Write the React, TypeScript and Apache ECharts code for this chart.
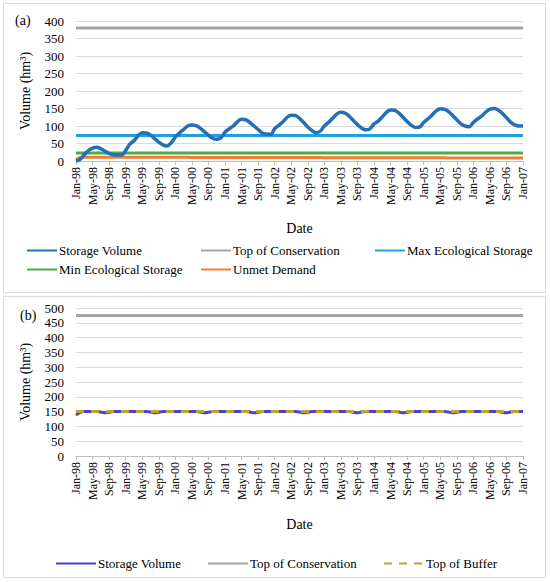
import React, { useEffect, useRef } from "react";
import * as echarts from "echarts";

const MONTHS = ["Jan", "Feb", "Mar", "Apr", "May", "Jun", "Jul", "Aug", "Sep", "Oct", "Nov", "Dec"];
const YEARS = ["98", "99", "00", "01", "02", "03", "04", "05", "06"];
const categories: string[] = [];
YEARS.forEach((y) => MONTHS.forEach((m) => categories.push(`${m}-${y}`)));
categories.push("Jan-07");

// Panel (a)
const storageA = [
  0, 5, 18, 30, 37, 39, 35, 28, 22, 18, 17, 17,
  30, 48, 58, 72, 81, 80, 74, 64, 54, 46, 43, 52,
  68, 80, 90, 100, 103, 101, 94, 84, 74, 65, 62, 66,
  82, 92, 100, 112, 119, 118, 110, 100, 90, 80, 77, 76,
  92, 102, 112, 125, 131, 130, 122, 110, 97, 87, 81, 85,
  100, 110, 122, 134, 139, 137, 128, 116, 104, 94, 89, 92,
  106, 114, 126, 139, 146, 145, 137, 125, 113, 102, 96, 97,
  110, 120, 131, 143, 149, 148, 141, 130, 118, 106, 100, 98,
  110, 120, 128, 140, 148, 150, 146, 136, 124, 111, 103, 100,
  101,
];
const unmetDemandA = [
  5, 10, 11, 11, 11, 11, 11, 11, 11, 11, 11, 11,
  11, 11, 11, 11, 11, 11, 11, 11, 11, 11, 11, 11,
  11, 11, 11, 11, 10, 10, 10, 10, 10, 10, 10, 10,
  10, 10, 10, 10, 10, 10, 10, 10, 10, 10, 10, 10,
  10, 10, 10, 10, 10, 10, 10, 10, 10, 10, 10, 10,
  9.5, 9.5, 9.5, 9.5, 9.5, 9.5, 9.5, 9.5, 9.5, 9.5, 9.5, 9.5,
  9, 9, 9, 9, 9, 9, 9, 9, 9, 9, 9, 9,
  9, 9, 9, 9, 9, 9, 8.5, 8.5, 8.5, 8.5, 8.5, 8.5,
  8.5, 8.5, 8.5, 8.5, 8.5, 8.5, 8.5, 8.5, 8.5, 8.5, 8.5, 8.5,
  8.5,
];
const TOP_CONSERVATION_A = 380;
const MAX_ECO_A = 73;
const MIN_ECO_A = 23;
const yTicksA = { min: 0, max: 400, interval: 50 };

// Panel (b)
const storageB = [
  138, 147, 150, 150, 150, 150, 149, 146, 148, 150, 150, 150,
  150, 150, 150, 150, 150, 150, 149, 146, 148, 150, 150, 150,
  150, 150, 150, 150, 150, 150, 149, 146, 148, 150, 150, 150,
  150, 150, 150, 150, 150, 150, 149, 146, 148, 150, 150, 150,
  150, 150, 150, 150, 150, 150, 149, 146, 148, 150, 150, 150,
  150, 150, 150, 150, 150, 150, 150, 148, 146, 149, 150, 150,
  150, 150, 150, 150, 150, 150, 149, 146, 148, 150, 150, 150,
  150, 150, 150, 150, 150, 150, 149, 146, 148, 150, 150, 150,
  150, 150, 150, 150, 150, 150, 150, 148, 146, 149, 150, 150,
  150,
];
const TOP_CONSERVATION_B = 475;
const TOP_BUFFER_B = 150;
const yTicksB = { min: 0, max: 500, interval: 50 };

const FONT = "'Liberation Serif', 'Times New Roman', serif";
const constSeries = (v: number) => categories.map(() => v);

export default function App() {
  const ref = useRef<HTMLDivElement>(null);
  useEffect(() => {
    document.body.style.margin = "0";
    const chart = echarts.init(ref.current!, null, { renderer: "svg" });
    const xAxisBase = (gridIndex: number, gap: number) => ({
      type: "category" as const,
      gridIndex,
      data: categories,
      boundaryGap: false,
      name: "Date",
      nameLocation: "middle" as const,
      nameGap: gap,
      nameTextStyle: { fontFamily: FONT, fontSize: 14, color: "#000" },
      axisLine: { lineStyle: { color: "#BFBFBF", width: 1 } },
      axisTick: { interval: 3, length: 4, lineStyle: { color: "#BFBFBF" } },
      axisLabel: { interval: 3, rotate: 90, fontFamily: FONT, fontSize: 12, color: "#000", margin: 6 },
      splitLine: { show: false },
    });
    const yAxisBase = (gridIndex: number, t: { min: number; max: number; interval: number }) => ({
      type: "value" as const,
      gridIndex,
      min: t.min,
      max: t.max,
      interval: t.interval,
      name: "Volume (hm³)",
      nameLocation: "middle" as const,
      nameGap: 44,
      nameTextStyle: { fontFamily: FONT, fontSize: 14, color: "#000" },
      axisLine: { show: false },
      axisTick: { show: false },
      axisLabel: { fontFamily: FONT, fontSize: 13, color: "#000", margin: 12 },
      splitLine: { lineStyle: { color: "#D9D9D9", width: 1 } },
    });
    const line = (name: string, data: number[], color: string, width: number, xi: number, extra: any = {}) => ({
      type: "line",
      name,
      data,
      xAxisIndex: xi,
      yAxisIndex: xi,
      symbol: "none",
      showSymbol: false,
      lineStyle: { color, width, ...(extra.lineStyle || {}) },
      itemStyle: { color },
      smooth: extra.smooth ?? false,
      z: extra.z ?? 2,
    });
    const legendItem = (name: string, left: number, top: number, w: number) => ({
      data: [name],
      left,
      top,
      itemWidth: w,
      itemHeight: 10,
      itemGap: 0,
      selectedMode: false,
      itemStyle: { opacity: 0 },
      textStyle: { fontFamily: FONT, fontSize: 13, color: "#000", padding: [0, 0, 0, -3] },
      padding: 0,
    });
    chart.setOption({
      animation: false,
      backgroundColor: "#fff",
      grid: [
        { left: 76, right: 27, top: 21, height: 140 },
        { left: 76, right: 27, top: 308, height: 148 },
      ],
      xAxis: [xAxisBase(0, 60), xAxisBase(1, 61)],
      yAxis: [yAxisBase(0, yTicksA), yAxisBase(1, yTicksB)],
      legend: [
        legendItem("Storage Volume", 26, 244, 30),
        legendItem("Top of Conservation", 200, 244, 30),
        legendItem("Max Ecological Storage", 374, 244, 30),
        legendItem("Min Ecological Storage", 26, 263, 30),
        legendItem("Unmet Demand", 200, 263, 30),
        legendItem("Storage Volume ", 55, 557, 40),
        legendItem("Top of Conservation ", 207, 557, 40),
        legendItem("Top of Buffer", 383, 557, 40),
      ],
      series: [
        line("Storage Volume", storageA, "#2370B8", 3.5, 0, { smooth: 0.35, z: 5 }),
        line("Top of Conservation", constSeries(TOP_CONSERVATION_A), "#A5A5A5", 3, 0),
        line("Max Ecological Storage", constSeries(MAX_ECO_A), "#1FA0DA", 3, 0),
        line("Min Ecological Storage", constSeries(MIN_ECO_A), "#48AE48", 3, 0),
        line("Unmet Demand", unmetDemandA, "#F47B33", 3, 0),
        line("Storage Volume ", storageB, "#4A45C8", 3, 1, { smooth: 0.35 }),
        line("Top of Conservation ", constSeries(TOP_CONSERVATION_B), "#A5A5A5", 3, 1),
        line("Top of Buffer", constSeries(TOP_BUFFER_B), "#BFA030", 3, 1, { lineStyle: { type: [8, 7] }, z: 4 }),
      ],
      graphic: [
        { type: "rect", shape: { x: 3.5, y: 3.5, width: 542, height: 289 }, style: { fill: "none", stroke: "#D9D9D9", lineWidth: 1 }, silent: true },
        { type: "rect", shape: { x: 3.5, y: 296.5, width: 542, height: 281 }, style: { fill: "none", stroke: "#D9D9D9", lineWidth: 1 }, silent: true },
        { type: "text", left: 15, top: 13, style: { text: "(a)", font: `14px ${FONT}`, fill: "#000" } },
        { type: "text", left: 20, top: 308, style: { text: "(b)", font: `14px ${FONT}`, fill: "#000" } },
      ],
    });
    return () => chart.dispose();
  }, []);
  return <div ref={ref} style={{ width: 550, height: 582 }} />;
}
